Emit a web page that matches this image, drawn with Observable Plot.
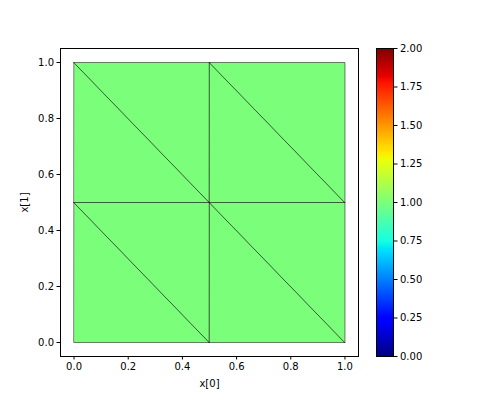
<!DOCTYPE html>
<html>
<head>
<meta charset="utf-8">
<script src="https://cdn.jsdelivr.net/npm/d3@7"></script>
<script src="https://cdn.jsdelivr.net/npm/@observablehq/plot@0.6"></script>
<style>
  html, body { margin: 0; padding: 0; background: white; }
  #wrap { position: relative; width: 480px; height: 400px; }
  #wrap svg { position: absolute; left: 0; top: 0; }
</style>
</head>
<body>
<div id="wrap"></div>
<script>
// Mesh node coordinates
const nodeX = [0, 0.5, 1, 0, 0.5, 1, 0, 0.5, 1];
const nodeY = [0, 0, 0, 0.5, 0.5, 0.5, 1, 1, 1];
// Triangles (node indices)
const triangles = [
  [0, 1, 3], [1, 4, 3],
  [1, 2, 4], [2, 5, 4],
  [3, 4, 6], [4, 7, 6],
  [4, 5, 7], [5, 8, 7]
];
// Value per triangle
const triValues = [1, 1, 1, 1, 1, 1, 1, 1];
// Tick labels
const axisTicks = [0, 0.2, 0.4, 0.6, 0.8, 1.0];
const cbarTicks = [0, 0.25, 0.5, 0.75, 1.0, 1.25, 1.5, 1.75, 2.0];
const colorDomain = [0, 2];

// matplotlib "jet" colormap
function seg(pts, t) {
  for (let i = 1; i < pts.length; i++) {
    if (t <= pts[i][0]) {
      const [x0, y0] = pts[i - 1], [x1, y1] = pts[i];
      return y0 + (y1 - y0) * (t - x0) / (x1 - x0 || 1);
    }
  }
  return pts[pts.length - 1][1];
}
const jetR = [[0, 0], [0.35, 0], [0.66, 1], [0.89, 1], [1, 0.5]];
const jetG = [[0, 0], [0.125, 0], [0.375, 1], [0.64, 1], [0.91, 0], [1, 0]];
const jetB = [[0, 0.5], [0.11, 1], [0.34, 1], [0.65, 0], [1, 0]];
function jet(t) {
  t = Math.max(0, Math.min(1, t));
  const c = v => Math.round(v * 255);
  return `rgb(${c(seg(jetR, t))},${c(seg(jetG, t))},${c(seg(jetB, t))})`;
}

const rows = [];
triangles.forEach((tri, k) => {
  tri.forEach(n => rows.push({tri: k, x: nodeX[n], y: nodeY[n], v: triValues[k]}));
});

const font = {fontFamily: "DejaVu Sans", fontSize: "10px", background: "transparent", color: "black"};

const main = Plot.plot({
  width: 480, height: 400,
  marginLeft: 60, marginRight: 122, marginTop: 48, marginBottom: 44,
  style: font,
  x: {domain: [-0.05, 1.05], label: null},
  y: {domain: [-0.05, 1.05], label: null},
  color: {type: "linear", domain: colorDomain, interpolate: jet},
  marks: [
    Plot.line(rows, {x: "x", y: "y", z: "tri", fill: "v", stroke: "black", strokeWidth: 0.5, curve: "linear-closed"}),
    Plot.frame({stroke: "black", strokeWidth: 1}),
    Plot.axisX({ticks: axisTicks, tickFormat: ".1f", tickSize: 3.5, tickPadding: 3, label: "x[0]", labelAnchor: "center", labelArrow: "none", labelOffset: 30}),
    Plot.axisY({ticks: axisTicks, tickFormat: ".1f", tickSize: 3.5, tickPadding: 3, label: "x[1]", labelAnchor: "center", labelArrow: "none", labelOffset: 40})
  ]
});

const cbar = Plot.plot({
  width: 480, height: 400,
  marginLeft: 376, marginRight: 87, marginTop: 48, marginBottom: 44,
  style: font,
  x: {domain: [0, 1], axis: null},
  y: {domain: colorDomain, axis: null},
  color: {type: "linear", domain: colorDomain, interpolate: jet},
  marks: [
    Plot.raster({x1: 0, x2: 1, y1: colorDomain[0], y2: colorDomain[1], width: 1, height: 300, fill: (x, y) => y, imageRendering: "auto"}),
    Plot.frame({stroke: "black", strokeWidth: 1}),
    Plot.axisY({anchor: "right", ticks: cbarTicks, tickFormat: ".2f", tickSize: 3.5, tickPadding: 3, label: null})
  ]
});

document.getElementById("wrap").append(main, cbar);
</script>
</body>
</html>
